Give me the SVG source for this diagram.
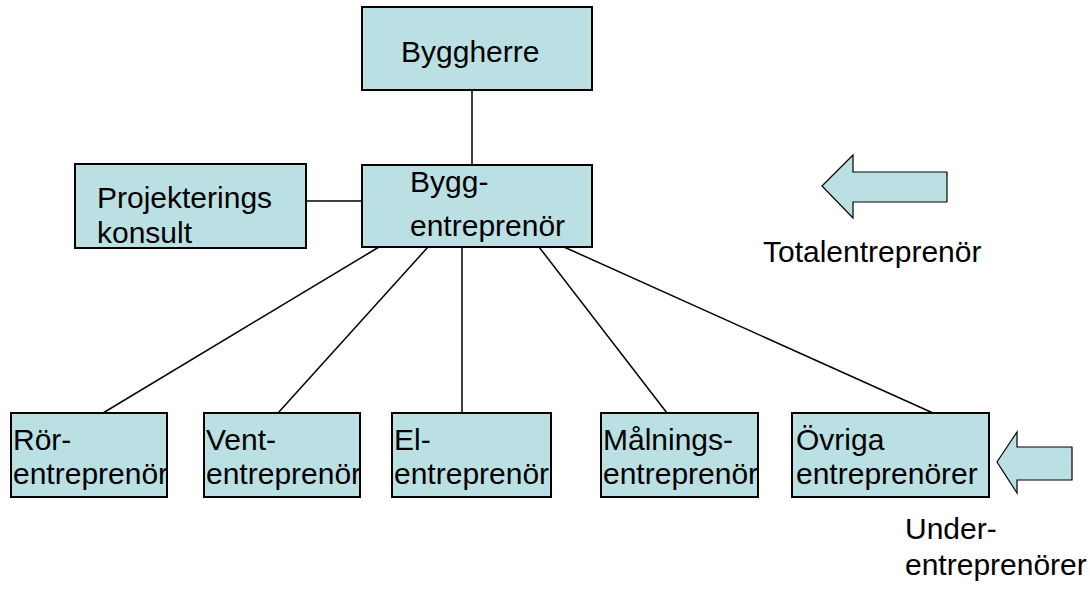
<svg xmlns="http://www.w3.org/2000/svg" width="1090" height="595" viewBox="0 0 1090 595">
  <style>
    .box { fill: #BBE0E3; stroke: #000; stroke-width: 2; }
    .arrow { fill: #BBE0E3; stroke: #000; stroke-width: 1.2; stroke-linejoin: miter; }
    .link { stroke: #000; stroke-width: 1.5; fill: none; }
    text { font-family: "Liberation Sans", Arial, sans-serif; font-size: 30px; fill: #000; }
  </style>
  <rect width="1090" height="595" fill="#fff"/>

  <!-- connectors -->
  <g id="connectors">
    <line class="link" x1="472" y1="90" x2="472" y2="165"/>
    <line class="link" x1="306" y1="201" x2="362" y2="201"/>
    <line class="link" x1="379" y1="247" x2="103" y2="413"/>
    <line class="link" x1="428" y1="247" x2="278" y2="413"/>
    <line class="link" x1="462" y1="247" x2="462" y2="413"/>
    <line class="link" x1="539" y1="247" x2="667" y2="413"/>
    <line class="link" x1="564" y1="247" x2="933" y2="413"/>
  </g>

  <g id="byggherre">
    <rect class="box" x="362" y="7" width="230" height="83"/>
    <text x="401" y="62">Byggherre</text>
  </g>

  <g id="projekteringskonsult">
    <rect class="box" x="75" y="164" width="231" height="84"/>
    <text x="97" y="208">Projekterings</text>
    <text x="97" y="243">konsult</text>
  </g>

  <g id="byggentreprenor">
    <rect class="box" x="362" y="165" width="230" height="82"/>
    <text x="410" y="192">Bygg-</text>
    <text x="410" y="236">entreprenör</text>
  </g>

  <g id="ror">
    <rect class="box" x="11" y="413" width="156" height="84"/>
    <text x="13" y="450">Rör-</text>
    <text x="13" y="484">entreprenör</text>
  </g>

  <g id="vent">
    <rect class="box" x="204" y="413" width="156" height="84"/>
    <text x="206" y="450">Vent-</text>
    <text x="206" y="484">entreprenör</text>
  </g>

  <g id="el">
    <rect class="box" x="392" y="413" width="159" height="84"/>
    <text x="394" y="450">El-</text>
    <text x="394" y="484">entreprenör</text>
  </g>

  <g id="malnings">
    <rect class="box" x="601" y="413" width="157" height="84"/>
    <text x="603" y="450">Målnings-</text>
    <text x="603" y="484">entreprenör</text>
  </g>

  <g id="ovriga">
    <rect class="box" x="792" y="413" width="197" height="84"/>
    <text x="796" y="450">Övriga</text>
    <text x="796" y="484">entreprenörer</text>
  </g>

  <g id="totalentreprenor">
    <polygon class="arrow" points="822,186 853,155 853,172 947,172 947,202 853,202 853,218"/>
    <text x="763" y="262">Totalentreprenör</text>
  </g>

  <g id="underentreprenorer">
    <polygon class="arrow" points="997,462 1017,432 1017,447 1072,447 1072,480 1017,480 1017,493"/>
    <text x="905" y="539">Under-</text>
    <text x="905" y="575">entreprenörer</text>
  </g>
</svg>
